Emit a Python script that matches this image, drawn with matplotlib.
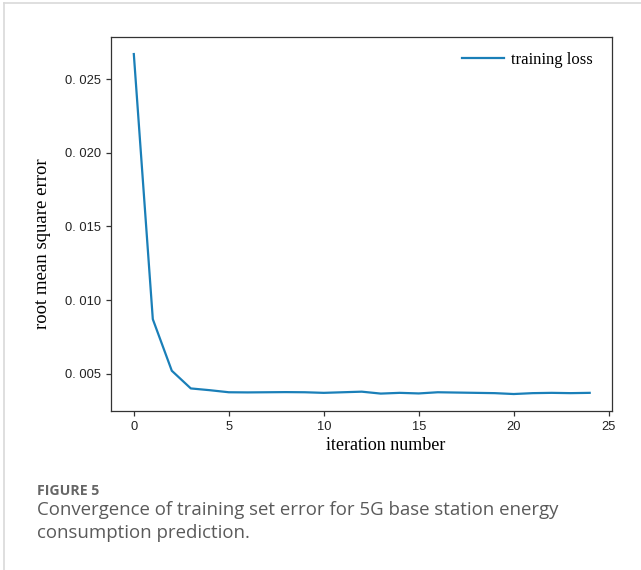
import matplotlib
matplotlib.use('Agg')
import matplotlib.pyplot as plt
from matplotlib.lines import Line2D
from matplotlib.ticker import FuncFormatter

# training loss per iteration
iterations = list(range(25))
rmse = [0.0267, 0.0087, 0.0052, 0.0040, 0.00388,
        0.00374, 0.00373, 0.00374, 0.00375, 0.00374,
        0.00370, 0.00374, 0.00378, 0.00365, 0.00370,
        0.00366, 0.00374, 0.00372, 0.00370, 0.00368,
        0.00362, 0.00368, 0.00370, 0.00368, 0.00370]

xticks = [0, 5, 10, 15, 20, 25]
yticks = [0.005, 0.010, 0.015, 0.020, 0.025]

fig = plt.figure(figsize=(6.41, 5.7), dpi=100)
ax = fig.add_axes([0.1732, 0.2789, 0.7823, 0.6561])

ax.plot(iterations, rmse, color='#1a7fb8', lw=1.6, label='training loss')

ax.set_xticks(xticks)
ax.set_yticks(yticks)
ax.yaxis.set_major_formatter(FuncFormatter(lambda v, p: f'{v:.3f}'.replace('.', '. ')))
ax.tick_params(direction='out', length=3.5, width=0.9, color='#333333',
               labelsize=9.3, labelcolor='#222222')
for lab in ax.get_xticklabels() + ax.get_yticklabels():
    lab.set_family('Liberation Sans')
for sp in ax.spines.values():
    sp.set_color('#333333')
    sp.set_linewidth(0.9)

ax.set_xlabel('iteration number', family='Liberation Serif', fontsize=13)
ax.xaxis.set_label_coords(0.547, -0.07)
ax.set_ylabel('root mean square error', family='Liberation Serif', fontsize=13.5)
ax.yaxis.set_label_coords(-0.12, 0.447)

leg = ax.legend(loc='upper right', frameon=False, handlelength=2.5, handletextpad=0.4,
                prop={'family': 'Liberation Serif', 'size': 12},
                bbox_to_anchor=(0.99, 1.0))

# caption below the plot
fig.text(36.7 / 641, 1 - 495 / 570, 'FIGURE 5', family='Open Sans', weight='bold',
         fontsize=10.2, color='#666666', va='baseline')
fig.text(36.7 / 641, 1 - 515 / 570,
         'Convergence of training set error for 5G base station energy',
         family='Open Sans', fontsize=13.4, color='#5a5a5a', va='baseline')
fig.text(36.7 / 641, 1 - 538.3 / 570, 'consumption prediction.',
         family='Open Sans', fontsize=13.4, color='#5a5a5a', va='baseline')

# light frame around the figure
W, H = 641, 570
fig.add_artist(Line2D([4 / W, 1], [1 - 3 / H, 1 - 3 / H], transform=fig.transFigure,
                      color='#d9d9d9', lw=1.2))
fig.add_artist(Line2D([4 / W, 4 / W], [1 - 3 / H, 0], transform=fig.transFigure,
                      color='#d9d9d9', lw=1.2))

fig.savefig('out.png', dpi=100)
